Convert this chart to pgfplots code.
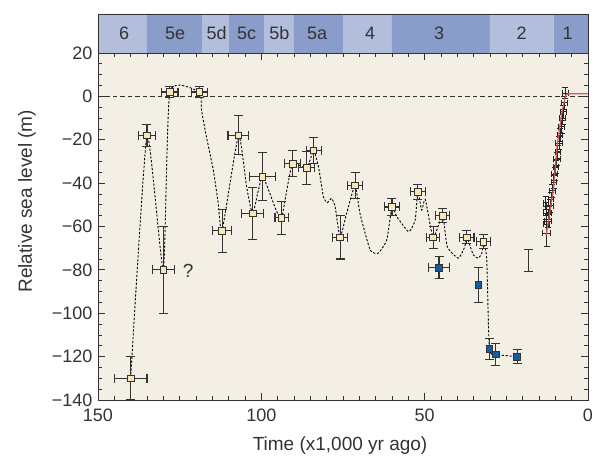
\documentclass[border=0pt]{standalone}
\usepackage{fontspec}
\setmainfont{Liberation Sans}
\usepackage{pgfplots}
\pgfplotsset{compat=1.18}

\definecolor{bgc}{HTML}{F3EFE4}
\definecolor{bandlight}{HTML}{B3BEDD}
\definecolor{banddark}{HTML}{8A9CC9}
\definecolor{markc}{HTML}{F8E6B5}
\definecolor{bluec}{HTML}{135E9F}
\definecolor{redc}{HTML}{D95B5B}
\definecolor{errc}{HTML}{333333}

\pgfplotsset{
  errbars/.style={
    error bars/.cd,
      x dir=both, x explicit, y dir=both, y explicit,
      error bar style={line width=1.1pt, errc},
      error mark options={rotate=90, errc, mark size=4.5pt, line width=1.1pt},
  },
  errbarsy/.style={
    error bars/.cd,
      y dir=both, y explicit,
      error bar style={line width=1.1pt, errc},
      error mark options={rotate=90, errc, mark size=4.5pt, line width=1.1pt},
  },
  errbarsthin/.style={
    error bars/.cd,
      x dir=both, x explicit, y dir=both, y explicit,
      error bar style={line width=1pt, black!85},
      error mark options={rotate=90, black!85, mark size=3pt, line width=1pt},
  },
  nomark/.style={only marks, mark=*, mark size=0.5pt,
    mark options={draw opacity=0, fill opacity=0}},
}

\begin{document}
\begin{tikzpicture}
\path[use as bounding box] (-98pt,-64pt) rectangle (497pt,400pt);

% stage band
\begin{axis}[
    at={(0pt,347pt)}, anchor=south west,
    scale only axis, width=490pt, height=39pt,
    xmin=0, xmax=150, x dir=reverse, ymin=0, ymax=1,
    ticks=none, axis on top,
    axis line style={errc, line width=0.9pt},
  ]
  \addplot[fill=bandlight, draw=none] coordinates {(150,0)(150,1)(135,1)(135,0)} \closedcycle;
  \addplot[fill=banddark, draw=none] coordinates {(135,0)(135,1)(118,1)(118,0)} \closedcycle;
  \addplot[fill=bandlight, draw=none] coordinates {(118,0)(118,1)(110,1)(110,0)} \closedcycle;
  \addplot[fill=banddark, draw=none] coordinates {(110,0)(110,1)(99,1)(99,0)} \closedcycle;
  \addplot[fill=bandlight, draw=none] coordinates {(99,0)(99,1)(90,1)(90,0)} \closedcycle;
  \addplot[fill=banddark, draw=none] coordinates {(90,0)(90,1)(75,1)(75,0)} \closedcycle;
  \addplot[fill=bandlight, draw=none] coordinates {(75,0)(75,1)(60,1)(60,0)} \closedcycle;
  \addplot[fill=banddark, draw=none] coordinates {(60,0)(60,1)(30,1)(30,0)} \closedcycle;
  \addplot[fill=bandlight, draw=none] coordinates {(30,0)(30,1)(10.5,1)(10.5,0)} \closedcycle;
  \addplot[fill=banddark, draw=none] coordinates {(10.5,0)(10.5,1)(0,1)(0,0)} \closedcycle;
  \begin{scope}[every node/.style={font=\fontsize{18}{20}\selectfont, text=errc}]
    \node at (axis cs:142,0.5) {6};
    \node at (axis cs:126.4,0.5) {5e};
    \node at (axis cs:113.7,0.5) {5d};
    \node at (axis cs:104.5,0.5) {5c};
    \node at (axis cs:94.5,0.5) {5b};
    \node at (axis cs:82.9,0.5) {5a};
    \node at (axis cs:66.7,0.5) {4};
    \node at (axis cs:45.6,0.5) {3};
    \node at (axis cs:20.3,0.5) {2};
    \node at (axis cs:6.2,0.5) {1};
  \end{scope}
\end{axis}

% main axis
\begin{axis}[
    at={(0pt,0pt)}, anchor=south west,
    scale only axis, width=490pt, height=347pt,
    xmin=0, xmax=150, x dir=reverse, ymin=-140, ymax=20,
    xtick={0,50,100,150}, minor x tick num=9,
    ytick={20,0,-20,-40,-60,-80,-100,-120,-140},
    yticklabels={20,0,−20,−40,−60,−80,−100,−120,−140},
    minor y tick num=3,
    tick align=inside, major tick length=7pt, minor tick length=4pt,
    axis line style={errc, line width=0.9pt},
    tick style={errc, line width=0.8pt},
    axis background/.style={fill=bgc},
    ticklabel style={font=\fontsize{18}{20}\selectfont, text=errc},
    /pgf/number format/assume math mode=true,
    yticklabel style={xshift=-2pt},
    xticklabel style={yshift=-5pt},
    label style={font=\fontsize{19}{22}\selectfont, text=errc},
    xlabel={Time (x1,000 yr ago)},
    ylabel={Relative sea level (m)},
    xlabel style={at={(axis description cs:0.494,-0.13)}, anchor=center},
    ylabel style={at={(axis description cs:-0.145,0.573)}, anchor=center},
  ]
  % zero line
  \addplot[errc, line width=0.8pt, dash pattern=on 4.5pt off 3pt] coordinates {(150,0)(0,0)};

  % connecting curve
  \addplot[black, line width=0.9pt, dash pattern=on 2.2pt off 1.7pt, smooth, tension=0.3] coordinates {
    (140,-130) (135,-18) (130,-80) (128,2) (119,2) (118.3,-6.4) (116.8,-18.7)
    (114.7,-34) (113.2,-49.3) (112,-62) (107,-18) (104.5,-41.7) (102.6,-54)
    (99.7,-37) (95.5,-52.4) (93.8,-56) (92.2,-43.2) (90.4,-31) (86.1,-33)
    (84,-25) (82.5,-32.5) (81,-46.3) (79.8,-49) (78.5,-47) (77.4,-50.9)
    (75.9,-65) (73.9,-54) (71.3,-41) (69.8,-54) (66.7,-70.8) (64.2,-72.3)
    (61.6,-66.2) (60,-51) (58.5,-55.5) (54.9,-62.4) (52.9,-57) (52.1,-44)
    (50.9,-52.4) (49.8,-47.5) (47.4,-65) (44.5,-55) (43.1,-69.3) (39.7,-74.6)
    (37.7,-69.3) (37.1,-65) (35.1,-73.1) (33.6,-74.6) (32.5,-72.3) (32,-67)
    (31,-75) (30.2,-116.5) (28.2,-119) (21.7,-120)
  };

  % deglacial coral data (bars only)
  \addplot[nomark, errbarsthin] coordinates {
    (6.9,1.5) +- (1,2.5)
    (7.2,-3) +- (1,3)
    (7.5,-7) +- (1,3)
    (7.8,-10) +- (0.8,3)
    (8.1,-14) +- (1,3)
    (8.5,-18) +- (0.8,3)
    (8.8,-21.5) +- (1,3)
    (9.2,-25.5) +- (0.8,3)
    (9.5,-29) +- (1,3)
    (9.8,-32.5) +- (0.8,3)
    (10.2,-36) +- (1,3)
    (10.5,-39.5) +- (0.8,3)
    (10.9,-43.5) +- (1,3)
    (11.3,-47.5) +- (0.8,3)
    (11.6,-50.5) +- (1,3)
    (11.9,-54) +- (0.8,3)
    (12.2,-57.5) +- (1,3)
    (12.9,-49) +- (0.8,3)
    (12.8,-54) +- (0.8,3)
    (12.7,-59) +- (0.8,4)
    (12.6,-63) +- (1.2,6)
  };

  % red deglacial curve
  \addplot[redc, line width=1.2pt] coordinates {
    (12.8,-64) (10.6,-43) (9.4,-22) (8.05,-8) (7.3,-2.5) (7.0,-0.3)
    (6.6,0.9) (6.0,1.2) (0,1.2)
  };

  % isolated bar without marker
  \addplot[nomark, errbarsy] coordinates {(18.3,-75.6) +- (0,5)};

  % open symbols
  \addplot[only marks, mark=square*, mark size=3.3pt,
    mark options={fill=markc, draw=errc, line width=0.8pt, solid}, errbars] coordinates {
    (140,-130) +- (5,10)
    (130,-80) +- (3.3,20)
    (135,-18) +- (2.5,5)
    (128,2) +- (2.5,2.5)
    (119,2) +- (2.4,2.5)
    (112,-62) +- (3,10)
    (107,-18) +- (3.2,9)
    (102.6,-54) +- (3.4,12)
    (99.7,-37) +- (4,11)
    (93.8,-56) +- (2,7.5)
    (90.4,-31) +- (2.4,6)
    (86.1,-33) +- (2.4,7.5)
    (84,-25) +- (2.3,6)
    (75.9,-65) +- (2.3,10)
    (71.3,-41) +- (2.3,6)
    (60,-51) +- (2.3,4)
    (52.1,-44) +- (2.3,3.5)
    (47.4,-65) +- (2,5)
    (44.5,-55) +- (2.1,3.3)
    (37.1,-65) +- (2.2,3)
    (32,-67) +- (2.2,3.2)
  };

  % filled symbols
  \addplot[only marks, mark=square*, mark size=3.3pt,
    mark options={fill=bluec, draw=errc, line width=0.8pt, solid}, errbars] coordinates {
    (45.6,-79) +- (3.1,5)
  };
  \addplot[only marks, mark=square*, mark size=3.3pt,
    mark options={fill=bluec, draw=errc, line width=0.8pt, solid}, errbarsy] coordinates {
    (33.5,-87) +- (0,8)
    (30.2,-116.5) +- (0,5)
    (28.2,-119) +- (0,5)
    (21.7,-120) +- (0,3.2)
  };

  \node[font=\fontsize{19}{22}\selectfont, text=errc] at (axis cs:122.4,-80.5) {?};
\end{axis}
\end{tikzpicture}
\end{document}
